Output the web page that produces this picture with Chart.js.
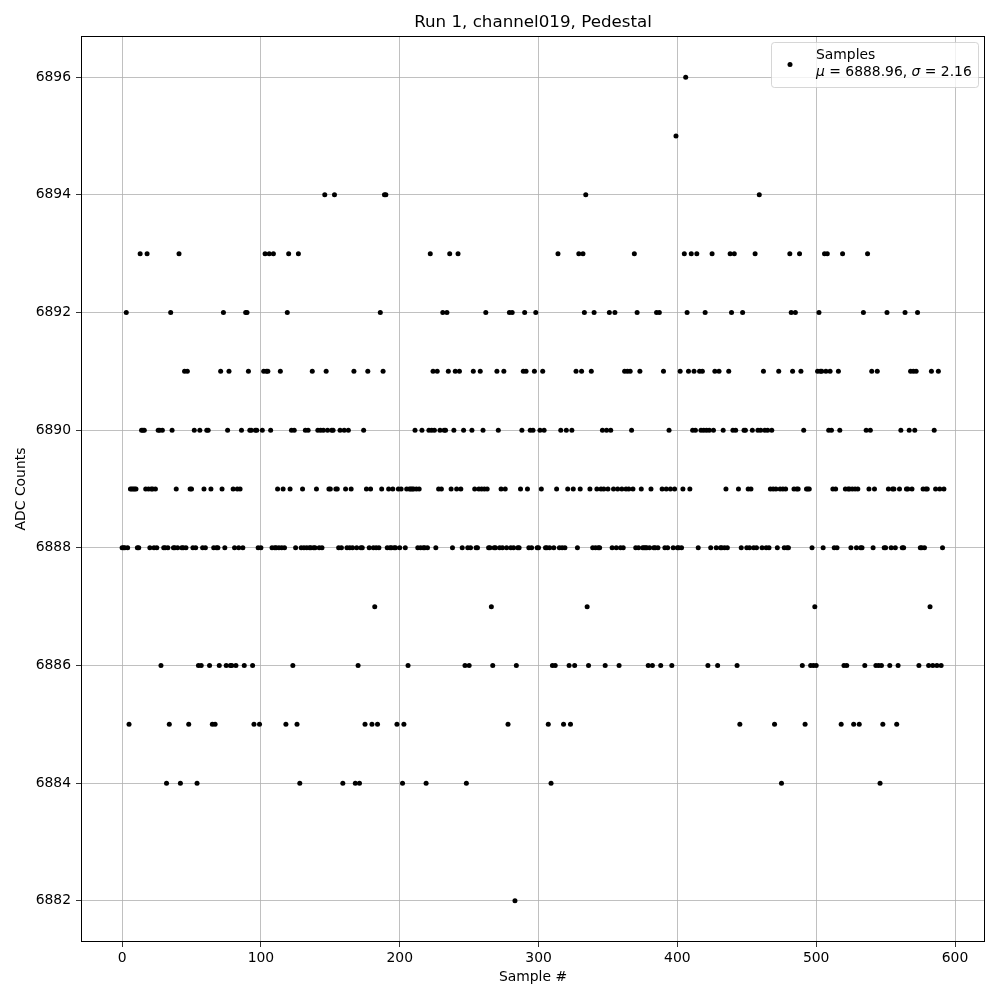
<!DOCTYPE html>
<html>
<head>
<meta charset="utf-8">
<script src="https://cdn.jsdelivr.net/npm/chart.js@4.4.0/dist/chart.umd.min.js"></script>
<style>
  body { margin: 0; background: #fff; }
  canvas { display: block; }
</style>
</head>
<body>
<canvas id="chart" width="1000" height="1000"></canvas>
<script>
// ADC counts per sample (sample # = index)
var adcCounts = [
    6888,6888,6888,6892,6888,6885,6889,6889,6889,6889, 6889,6888,6888,6893,6890,6890,6890,6889,6893,6889,
    6888,6889,6889,6888,6889,6888,6890,6890,6886,6890, 6888,6888,6884,6888,6885,6892,6890,6888,6888,6889,
    6888,6893,6884,6888,6888,6891,6888,6891,6885,6889, 6889,6888,6890,6888,6884,6886,6890,6886,6888,6889,
    6888,6890,6890,6886,6889,6885,6888,6885,6888,6888, 6886,6891,6889,6892,6888,6886,6890,6891,6886,6886,
    6889,6888,6886,6889,6888,6889,6890,6888,6886,6892, 6892,6891,6890,6890,6886,6885,6890,6890,6888,6885,
    6888,6890,6891,6893,6891,6891,6893,6890,6888,6893, 6888,6888,6889,6888,6891,6888,6889,6888,6885,6892,
    6893,6889,6890,6886,6890,6888,6885,6893,6884,6888, 6889,6888,6890,6888,6890,6888,6888,6891,6888,6888,
    6889,6890,6888,6890,6888,6890,6894,6891,6890,6889, 6889,6890,6890,6894,6889,6889,6888,6890,6888,6884,
    6890,6889,6888,6890,6888,6889,6888,6891,6884,6888, 6886,6884,6888,6888,6890,6885,6889,6891,6888,6889,
    6885,6888,6887,6888,6885,6888,6892,6889,6891,6894, 6894,6888,6889,6888,6888,6889,6888,6888,6885,6889,
    6888,6889,6884,6885,6888,6889,6886,6889,6889,6889, 6889,6890,6889,6888,6889,6888,6890,6888,6888,6884,
    6888,6890,6893,6890,6891,6890,6888,6891,6889,6890, 6889,6892,6890,6890,6892,6891,6893,6889,6888,6890,
    6891,6889,6893,6891,6889,6888,6890,6886,6884,6888, 6886,6888,6890,6891,6889,6888,6888,6889,6891,6889,
    6890,6889,6892,6889,6888,6888,6887,6886,6888,6888, 6891,6890,6888,6889,6888,6891,6889,6888,6885,6892,
    6888,6892,6888,6882,6886,6888,6888,6889,6890,6891, 6892,6891,6889,6888,6890,6888,6890,6891,6892,6888,
    6888,6890,6889,6891,6890,6888,6888,6885,6888,6884, 6886,6888,6886,6889,6893,6888,6890,6888,6885,6888,
    6890,6889,6886,6885,6890,6889,6886,6891,6888,6893, 6889,6891,6893,6892,6894,6887,6886,6889,6891,6888,
    6892,6888,6889,6888,6888,6889,6890,6889,6886,6890, 6889,6892,6890,6888,6889,6892,6888,6889,6886,6888,
    6889,6888,6891,6889,6891,6889,6891,6890,6889,6893, 6888,6892,6888,6891,6889,6888,6888,6888,6888,6886,
    6888,6889,6886,6888,6888,6892,6888,6892,6886,6889, 6891,6888,6889,6888,6890,6889,6886,6888,6889,6895,
    6888,6888,6891,6888,6889,6893,6896,6892,6891,6889, 6893,6890,6891,6890,6893,6888,6891,6890,6891,6890,
    6892,6890,6886,6890,6888,6893,6890,6891,6888,6886, 6891,6888,6888,6890,6888,6889,6888,6891,6893,6892,
    6890,6893,6890,6886,6889,6885,6888,6892,6890,6890, 6888,6889,6888,6889,6890,6888,6893,6888,6890,6894,
    6890,6888,6891,6890,6888,6890,6888,6889,6890,6889, 6885,6889,6888,6891,6889,6884,6889,6888,6889,6888,
    6888,6893,6892,6891,6889,6892,6889,6889,6893,6891, 6886,6890,6885,6889,6889,6889,6886,6888,6886,6887,
    6886,6891,6892,6891,6891,6888,6893,6891,6893,6890, 6891,6890,6889,6888,6889,6888,6891,6890,6885,6893,
    6886,6889,6886,6889,6889,6888,6889,6885,6889,6888, 6889,6885,6888,6888,6892,6886,6890,6893,6889,6890,
    6891,6888,6889,6886,6891,6886,6884,6886,6885,6888, 6888,6892,6889,6886,6888,6889,6889,6888,6885,6886,
    6889,6890,6888,6888,6892,6889,6889,6890,6891,6889, 6891,6890,6891,6892,6886,6888,6888,6889,6888,6889,
    6889,6886,6887,6891,6886,6890,6889,6886,6891,6889, 6886,6888,6889
];

var xTicks = [0, 100, 200, 300, 400, 500, 600];
var yTicks = [6882, 6884, 6886, 6888, 6890, 6892, 6894, 6896];

var chartTitle = 'Run 1, channel019, Pedestal';
var seriesName = 'Samples';
var meanText = '6888.96';
var sigmaText = '2.16';

var FONT = '"DejaVu Sans", sans-serif';
var FS = 13.9;

// matplotlib-like extras: full black frame, title, legend box
var mplExtras = {
    id: 'mplExtras',
    afterDraw: function (chart) {
        var ctx = chart.ctx;
        var a = chart.chartArea;
        var l = Math.round(a.left), r = Math.round(a.right);
        var t = Math.round(a.top), b = Math.round(a.bottom);
        ctx.save();

        // spines
        ctx.fillStyle = '#000';
        ctx.fillRect(l, t, r - l, 1);
        ctx.fillRect(l, b - 1, r - l, 1);
        ctx.fillRect(l, t, 1, b - t);
        ctx.fillRect(r - 1, t, 1, b - t);

        ctx.font = '16.7px ' + FONT;
        ctx.textAlign = 'center';
        ctx.textBaseline = 'alphabetic';
        ctx.fillText(chartTitle, (a.left + a.right) / 2, a.top - 9.5);

        // legend
        var bx = 771, by = 42, bw = 207, bh = 45;
        ctx.beginPath();
        ctx.roundRect(bx + 0.5, by + 0.5, bw, bh, 3);
        ctx.fillStyle = 'rgba(255,255,255,0.8)';
        ctx.fill();
        ctx.strokeStyle = 'rgba(204,204,204,0.8)';
        ctx.lineWidth = 1;
        ctx.stroke();

        ctx.fillStyle = '#000';
        ctx.beginPath();
        ctx.arc(790, 64.5, 2.5, 0, Math.PI * 2);
        ctx.fill();

        ctx.textAlign = 'left';
        ctx.textBaseline = 'alphabetic';
        var tx = 816;
        ctx.font = FS + 'px ' + FONT;
        ctx.fillText(seriesName, tx, 59);

        var parts = [
            ['italic', '\u03bc'], ['', ' = ' + meanText + ', '],
            ['italic', '\u03c3'], ['', ' = ' + sigmaText]
        ];
        var x = tx;
        parts.forEach(function (p) {
            ctx.font = (p[0] ? p[0] + ' ' : '') + FS + 'px ' + FONT;
            ctx.fillText(p[1], x, 76);
            x += ctx.measureText(p[1]).width;
        });

        ctx.restore();
    }
};

var points = adcCounts.map(function (v, i) { return { x: i, y: v }; });

new Chart(document.getElementById('chart'), {
    type: 'scatter',
    data: {
        datasets: [{
            label: seriesName,
            data: points,
            pointRadius: 2.5,
            pointHoverRadius: 2.5,
            pointBackgroundColor: '#000',
            pointBorderWidth: 0,
            showLine: false
        }]
    },
    options: {
        responsive: false,
        animation: false,
        layout: { padding: { top: 36, right: 15, left: 0, bottom: 0 } },
        plugins: {
            legend: { display: false },
            tooltip: { enabled: false },
            title: { display: false }
        },
        scales: {
            x: {
                type: 'linear',
                min: -29.6,
                max: 621.6,
                afterBuildTicks: function (s) { s.ticks = xTicks.map(function (v) { return { value: v }; }); },
                afterFit: function (s) { s.height = 58; },
                grid: { color: '#b0b0b0', lineWidth: 0.8, tickColor: '#000', tickLength: 5, drawTicks: true },
                border: { display: false },
                ticks: {
                    color: '#000', font: { family: FONT, size: FS }, padding: 3,
                    maxRotation: 0, autoSkip: false,
                    callback: function (v) { return String(v); }
                },
                title: {
                    display: true, text: 'Sample #', color: '#000',
                    font: { family: FONT, size: FS }, padding: { top: 0, bottom: 14.7 }
                }
            },
            y: {
                type: 'linear',
                min: 6881.3,
                max: 6896.7,
                afterBuildTicks: function (s) { s.ticks = yTicks.map(function (v) { return { value: v }; }); },
                afterFit: function (s) { s.width = 81; },
                grid: { color: '#b0b0b0', lineWidth: 0.8, tickColor: '#000', tickLength: 5, drawTicks: true },
                border: { display: false },
                ticks: {
                    color: '#000', font: { family: FONT, size: FS }, padding: 5,
                    autoSkip: false,
                    callback: function (v) { return String(v); }
                },
                title: {
                    display: true, text: 'ADC Counts', color: '#000',
                    font: { family: FONT, size: FS }, padding: { top: 12.7, bottom: 0 }
                }
            }
        }
    },
    plugins: [mplExtras]
});
</script>
</body>
</html>
